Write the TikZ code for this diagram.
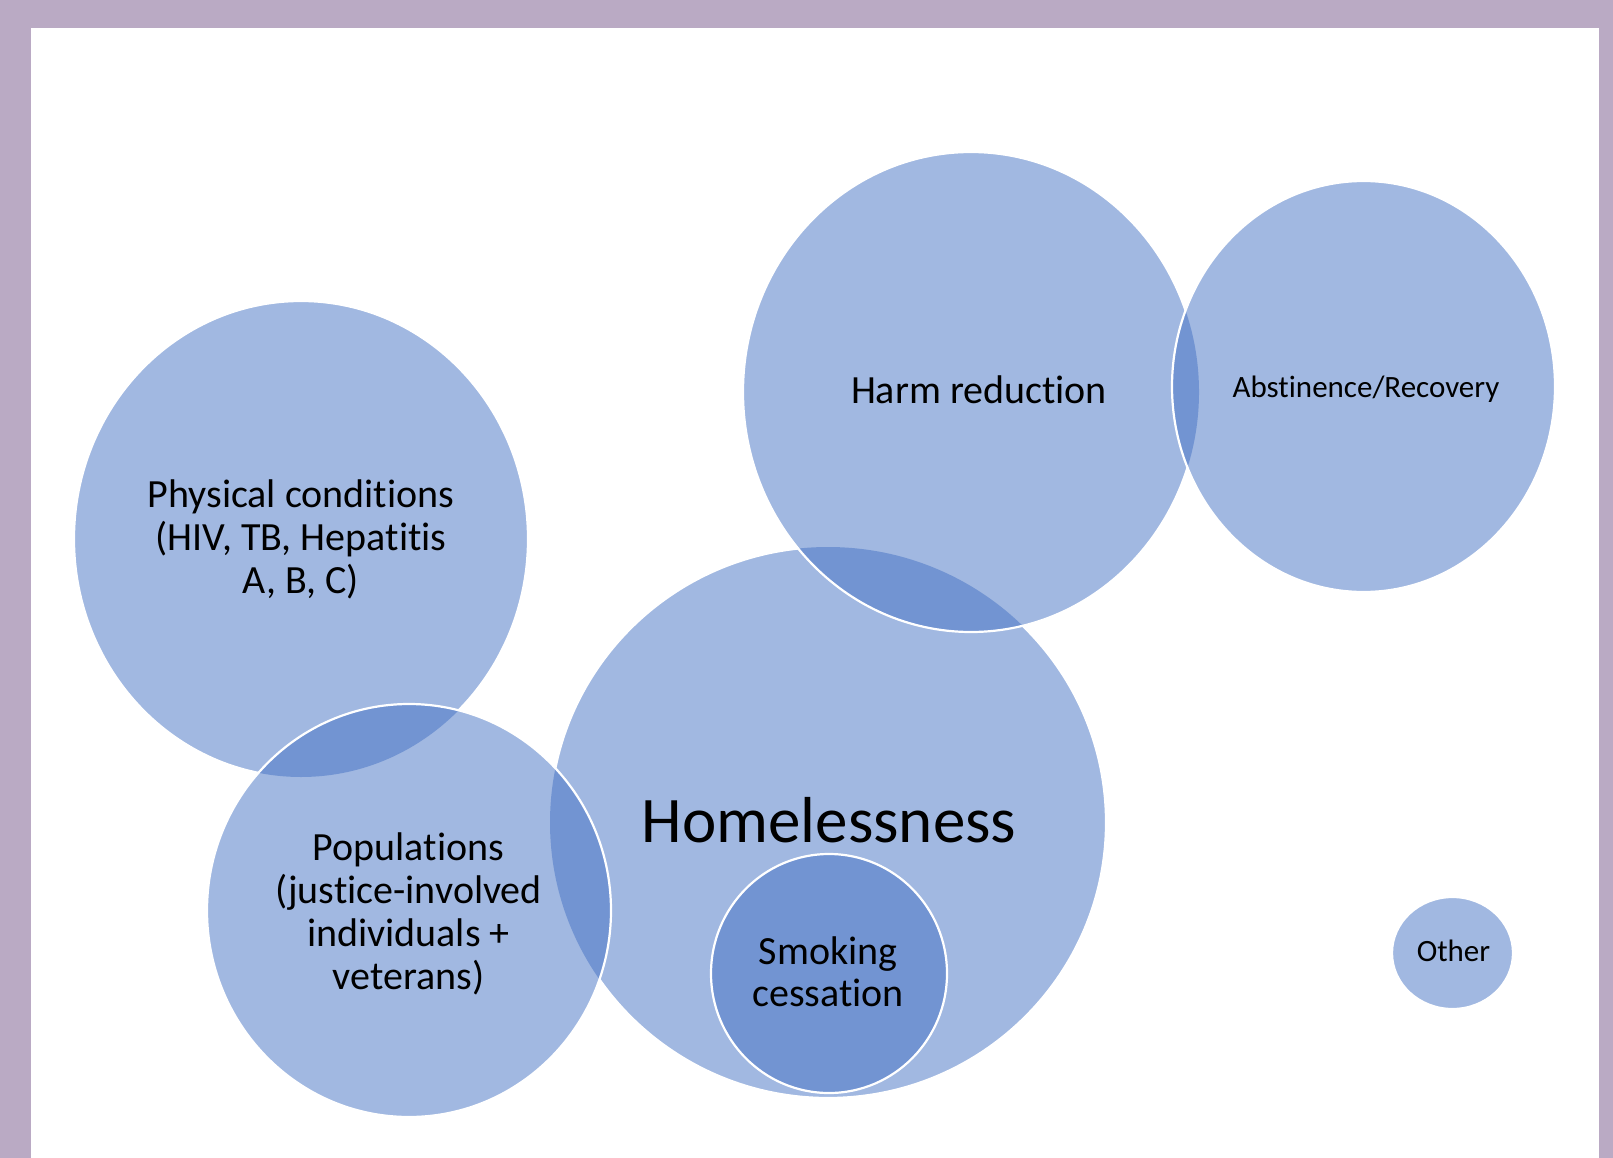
\documentclass[tikz,border=0pt]{standalone}
\usepackage{fontspec}
\setmainfont[Ligatures=NoCommon]{Carlito}
\definecolor{framepurple}{RGB}{186,170,196}
\definecolor{bubble}{HTML}{4472C4}
\begin{document}
\begin{tikzpicture}[x=1pt,y=-1pt,
  bubblefill/.style={fill=bubble, fill opacity=0.5},
  rim/.style={draw=white, line width=2.2pt},
  lbl/.style={text=black, align=center, inner sep=0pt},
  body/.style={font=\fontsize{40}{43}\selectfont},
  smalllbl/.style={font=\fontsize{31}{36}\selectfont},
  biglbl/.style={font=\fontsize{65}{72}\selectfont}]

% page frame
\useasboundingbox (0,0) rectangle (1613,1158);
\fill[framepurple] (0,0) rectangle (1613,1158);
\fill[white] (31,28) rectangle (1599,1158);

% bubble centres
\coordinate (cPhys) at (301,539);
\coordinate (cHome) at (828,822.5);
\coordinate (cPop)  at (409,910.5);
\coordinate (cHarm) at (971,392);
\coordinate (cAbst) at (1363.5,386.5);
\coordinate (cSmok) at (829,973.5);
\coordinate (cOth)  at (1452.5,953);

% translucent fills, back to front
\fill[bubblefill] (cPhys) ellipse [x radius=227pt, y radius=238pt];
\fill[bubblefill] (cHome) ellipse [x radius=278pt, y radius=275.5pt];
\fill[bubblefill] (cPop)  ellipse [x radius=202pt, y radius=206.5pt];
\fill[bubblefill] (cHarm) ellipse [x radius=228pt, y radius=240pt];
\fill[bubblefill] (cAbst) ellipse [x radius=191.5pt, y radius=205.5pt];
\fill[bubblefill] (cSmok) ellipse [x radius=118pt, y radius=119.5pt];
\fill[bubblefill] (cOth)  ellipse [x radius=60.5pt, y radius=56pt];

% white rims, each hidden where a later bubble lies on top
\begin{scope}[even odd rule]
  \clip (-10,-10) rectangle (1700,1200)
    (cPop) ellipse [x radius=202pt, y radius=206.5pt];
  \draw[rim] (cPhys) ellipse [x radius=227pt, y radius=238pt];
\end{scope}
\begin{scope}[even odd rule]
  \clip (-10,-10) rectangle (1700,1200)
    (cPop) ellipse [x radius=202pt, y radius=206.5pt];
  \begin{scope}
    \clip (-10,-10) rectangle (1700,1200)
      (cHarm) ellipse [x radius=228pt, y radius=240pt];
    \begin{scope}
      \clip (-10,-10) rectangle (1700,1200)
        (cSmok) ellipse [x radius=118pt, y radius=119.5pt];
      \draw[rim] (cHome) ellipse [x radius=278pt, y radius=275.5pt];
    \end{scope}
  \end{scope}
\end{scope}
\draw[rim] (cPop) ellipse [x radius=202pt, y radius=206.5pt];
\begin{scope}[even odd rule]
  \clip (-10,-10) rectangle (1700,1200)
    (cAbst) ellipse [x radius=191.5pt, y radius=205.5pt];
  \draw[rim] (cHarm) ellipse [x radius=228pt, y radius=240pt];
\end{scope}
\draw[rim] (cAbst) ellipse [x radius=191.5pt, y radius=205.5pt];
\draw[rim] (cSmok) ellipse [x radius=118pt, y radius=119.5pt];
\draw[rim] (cOth)  ellipse [x radius=60.5pt, y radius=56pt];

% labels
\node[lbl, body] (tPhys) at (301,539.5)
  {Physical conditions\\(HIV, TB, Hepatitis\\A, B, C)};
\node[lbl, body, anchor=base] (tHarm) at (979,403) {Harm reduction};
\node[lbl, smalllbl, anchor=base] (tAbst) at (1366,397) {Abstinence/Recovery};
\node[lbl, biglbl, anchor=base] (tHome) at (829,842) {Homelessness};
\node[lbl, body] (tPop) at (408.5,913.5)
  {Populations\\(justice-involved\\individuals +\\veterans)};
\node[lbl, body, font=\fontsize{40}{42}\selectfont] (tSmok) at (828,972)
  {Smoking\\cessation};
\node[lbl, smalllbl, anchor=base] (tOth) at (1453.5,961) {Other};
\end{tikzpicture}
\end{document}
